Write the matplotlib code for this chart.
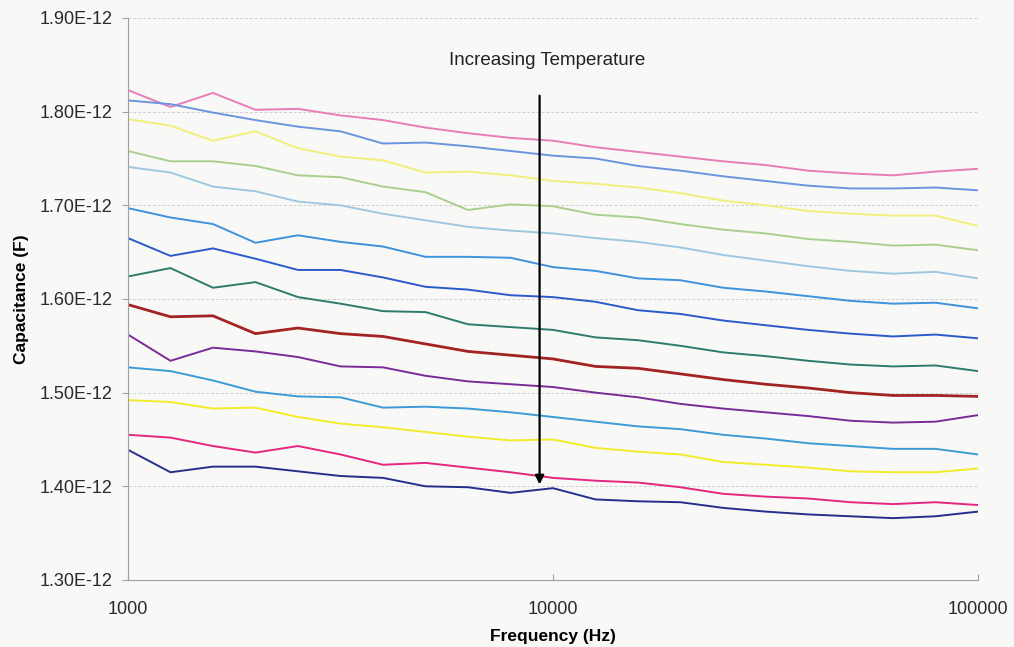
import numpy as np
import matplotlib
matplotlib.use('Agg')
import matplotlib.pyplot as plt
import matplotlib.ticker as mticker

plt.rcParams['font.family'] = ['Liberation Sans', 'DejaVu Sans']

# frequency points, 10 per decade from 1 kHz to 100 kHz
freq = [1000, 1259, 1585, 1995, 2512, 3162, 3981, 5012, 6310, 7943, 10000,
        12589, 15849, 19953, 25119, 31623, 39811, 50119, 63096, 79433, 100000]

# capacitance curves in pF, top (highest temperature) to bottom
c01 = [1.823, 1.805, 1.820, 1.802, 1.803, 1.796, 1.791, 1.783, 1.777, 1.772, 1.769,
       1.762, 1.757, 1.752, 1.747, 1.743, 1.737, 1.734, 1.732, 1.736, 1.739]
c02 = [1.812, 1.808, 1.799, 1.791, 1.784, 1.779, 1.766, 1.767, 1.763, 1.758, 1.753,
       1.750, 1.742, 1.737, 1.731, 1.726, 1.721, 1.718, 1.718, 1.719, 1.716]
c03 = [1.792, 1.785, 1.769, 1.779, 1.761, 1.752, 1.748, 1.735, 1.736, 1.732, 1.726,
       1.723, 1.719, 1.713, 1.705, 1.700, 1.694, 1.691, 1.689, 1.689, 1.678]
c04 = [1.758, 1.747, 1.747, 1.742, 1.732, 1.730, 1.720, 1.714, 1.695, 1.701, 1.699,
       1.690, 1.687, 1.680, 1.674, 1.670, 1.664, 1.661, 1.657, 1.658, 1.652]
c05 = [1.741, 1.735, 1.720, 1.715, 1.704, 1.700, 1.691, 1.684, 1.677, 1.673, 1.670,
       1.665, 1.661, 1.655, 1.647, 1.641, 1.635, 1.630, 1.627, 1.629, 1.622]
c06 = [1.697, 1.687, 1.680, 1.660, 1.668, 1.661, 1.656, 1.645, 1.645, 1.644, 1.634,
       1.630, 1.622, 1.620, 1.612, 1.608, 1.603, 1.598, 1.595, 1.596, 1.590]
c07 = [1.665, 1.646, 1.654, 1.643, 1.631, 1.631, 1.623, 1.613, 1.610, 1.604, 1.602,
       1.597, 1.588, 1.584, 1.577, 1.572, 1.567, 1.563, 1.560, 1.562, 1.558]
c08 = [1.624, 1.633, 1.612, 1.618, 1.602, 1.595, 1.587, 1.586, 1.573, 1.570, 1.567,
       1.559, 1.556, 1.550, 1.543, 1.539, 1.534, 1.530, 1.528, 1.529, 1.523]
c09 = [1.594, 1.581, 1.582, 1.563, 1.569, 1.563, 1.560, 1.552, 1.544, 1.540, 1.536,
       1.528, 1.526, 1.520, 1.514, 1.509, 1.505, 1.500, 1.497, 1.497, 1.496]
c10 = [1.562, 1.534, 1.548, 1.544, 1.538, 1.528, 1.527, 1.518, 1.512, 1.509, 1.506,
       1.500, 1.495, 1.488, 1.483, 1.479, 1.475, 1.470, 1.468, 1.469, 1.476]
c11 = [1.527, 1.523, 1.513, 1.501, 1.496, 1.495, 1.484, 1.485, 1.483, 1.479, 1.474,
       1.469, 1.464, 1.461, 1.455, 1.451, 1.446, 1.443, 1.440, 1.440, 1.434]
c12 = [1.492, 1.490, 1.483, 1.484, 1.474, 1.467, 1.463, 1.458, 1.453, 1.449, 1.450,
       1.441, 1.437, 1.434, 1.426, 1.423, 1.420, 1.416, 1.415, 1.415, 1.419]
c13 = [1.455, 1.452, 1.443, 1.436, 1.443, 1.434, 1.423, 1.425, 1.420, 1.415, 1.409,
       1.406, 1.404, 1.399, 1.392, 1.389, 1.387, 1.383, 1.381, 1.383, 1.380]
c14 = [1.439, 1.415, 1.421, 1.421, 1.416, 1.411, 1.409, 1.400, 1.399, 1.393, 1.398,
       1.386, 1.384, 1.383, 1.377, 1.373, 1.370, 1.368, 1.366, 1.368, 1.373]

curves = [c01, c02, c03, c04, c05, c06, c07, c08, c09, c10, c11, c12, c13, c14]
colors = ['#e87db8', '#6b95de', '#f2ee7a', '#a9cf8f', '#9dc8e0', '#3f92dc', '#2a5acb',
          '#2e7b6e', '#a32222', '#7a2b98', '#3a9bd6', '#f2eb2a', '#e4267f', '#25308a']

bg = '#f8f8f6'
fig = plt.figure(figsize=(10.14, 6.47), dpi=100, facecolor=bg)
ax = fig.add_axes([0.1262, 0.1036, 0.8383, 0.8686], facecolor=bg)

for c, col in zip(curves, colors):
    lw = 2.0 if col == '#a32222' else 1.4
    ax.plot(freq, np.array(c) * 1e-12, color=col, linewidth=lw)

ax.set_xscale('log')
ax.set_xlim(1000, 100000)
ax.set_ylim(1.30e-12, 1.90e-12)
ax.set_yticks(np.arange(1.30, 1.901, 0.10) * 1e-12)
ax.yaxis.set_major_formatter(mticker.FormatStrFormatter('%.2E'))
ax.set_xticks([1000, 10000, 100000])
ax.xaxis.set_major_formatter(mticker.FuncFormatter(lambda v, p: '%d' % v))
ax.xaxis.set_minor_locator(mticker.NullLocator())

ax.grid(axis='y', color='#cfcfcf', linestyle=(0, (3, 2)), linewidth=0.7)
for s in ['top', 'right']:
    ax.spines[s].set_visible(False)
for s in ['left', 'bottom']:
    ax.spines[s].set_color('#a0a0a0')
    ax.spines[s].set_linewidth(0.8)
ax.tick_params(axis='y', direction='out', length=4, color='#a0a0a0', labelsize=13,
               labelcolor='#2a2a2a', pad=7)
ax.tick_params(axis='x', direction='in', length=4, color='#a0a0a0', labelsize=13,
               labelcolor='#2a2a2a', pad=15)

ax.set_xlabel('Frequency (Hz)', fontsize=12.5, fontweight='bold', labelpad=8)
ax.set_ylabel('Capacitance (F)', fontsize=12.5, fontweight='bold', labelpad=8)

ax.annotate('', xy=(9300, 1.399e-12), xytext=(9300, 1.82e-12),
            arrowprops=dict(arrowstyle='-|>', color='black', lw=1.6, mutation_scale=13))
ax.text(9700, 1.855e-12, 'Increasing Temperature', fontsize=13.5, ha='center', va='center',
        color='#222222')

fig.savefig('out.png', dpi=100, facecolor=bg)
